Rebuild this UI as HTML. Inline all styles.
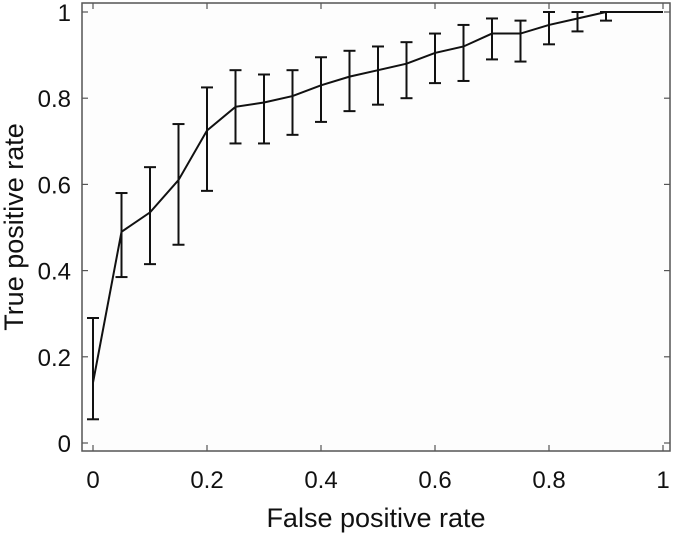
<!DOCTYPE html>
<html><head><meta charset="utf-8"><style>
body{margin:0;background:#fff;}
svg text{font-family:"Liberation Sans",Arial,sans-serif;fill:#111;}
</style></head><body>
<svg id="chart" width="675" height="533" xmlns="http://www.w3.org/2000/svg">
<rect x="82" y="3" width="588" height="448" fill="#fdfdfd" stroke="#555" stroke-width="1.5"/>
<g id="ticks"></g>
<g id="marks"></g>
<text x="376" y="527" font-size="27" text-anchor="middle">False positive rate</text>
<text transform="translate(23,227) rotate(-90)" font-size="27" text-anchor="middle">True positive rate</text>
</svg>
<script>
const fpr = [0,0.05,0.1,0.15,0.2,0.25,0.3,0.35,0.4,0.45,0.5,0.55,0.6,0.65,0.7,0.75,0.8,0.85,0.9,1.0];
const tpr = [0.14,0.49,0.535,0.61,0.725,0.78,0.79,0.805,0.83,0.85,0.865,0.88,0.905,0.92,0.95,0.95,0.97,0.985,1.0,1.0];
const lower = [0.055,0.385,0.415,0.46,0.585,0.695,0.695,0.715,0.745,0.77,0.785,0.80,0.835,0.84,0.89,0.885,0.925,0.955,0.98,null];
const upper = [0.29,0.58,0.64,0.74,0.825,0.865,0.855,0.865,0.895,0.91,0.92,0.93,0.95,0.97,0.985,0.98,1.0,1.0,1.0,null];
const xTicks = [0,0.2,0.4,0.6,0.8,1];
const xTickLabels = ["0","0.2","0.4","0.6","0.8","1"];
const yTicks = [0,0.2,0.4,0.6,0.8,1];
const yTickLabels = ["0","0.2","0.4","0.6","0.8","1"];
const X = v => 93 + v*570;
const Y = v => 443 - v*431;
const NS = "http://www.w3.org/2000/svg";
function mk(tag, attrs, parent){const e=document.createElementNS(NS,tag);for(const k in attrs)e.setAttribute(k,attrs[k]);parent.appendChild(e);return e;}
const tg=document.getElementById('ticks'), mg=document.getElementById('marks');
xTicks.forEach((t,i)=>{
  const a=mk('line',{x1:X(t),x2:X(t),y1:451,y2:445,stroke:'#555','stroke-width':1.2},tg);
  
  
  const b=mk('line',{x1:X(t),x2:X(t),y1:3,y2:9,stroke:'#555','stroke-width':1.2},tg);
  
  
  const l=mk('text',{x:X(t),y:488,'font-size':24,'text-anchor':'middle'},tg);
  l.textContent=xTickLabels[i];
  
  
});
yTicks.forEach((t,i)=>{
  const a=mk('line',{x1:82,x2:88,y1:Y(t),y2:Y(t),stroke:'#555','stroke-width':1.2},tg);
  
  
  const b=mk('line',{x1:670,x2:664,y1:Y(t),y2:Y(t),stroke:'#555','stroke-width':1.2},tg);
  
  
  const l=mk('text',{x:71,y:Y(t)+9,'font-size':24,'text-anchor':'end'},tg);
  l.textContent=yTickLabels[i];
  
  
});
const line=mk('polyline',{points:fpr.map((f,i)=>X(f)+','+Y(tpr[i])).join(' '),fill:'none',stroke:'#111','stroke-width':2},mg);


fpr.forEach((f,i)=>{
  if(lower[i]===null) return;
  const g=mk('g',{stroke:'#111','stroke-width':2},mg);
  
  
  const x=X(f);
  mk('line',{x1:x,x2:x,y1:Y(lower[i]),y2:Y(upper[i])},g);
  mk('line',{x1:x-6,x2:x+6,y1:Y(lower[i]),y2:Y(lower[i])},g);
  mk('line',{x1:x-6,x2:x+6,y1:Y(upper[i]),y2:Y(upper[i])},g);
});
</script>
</body></html>
